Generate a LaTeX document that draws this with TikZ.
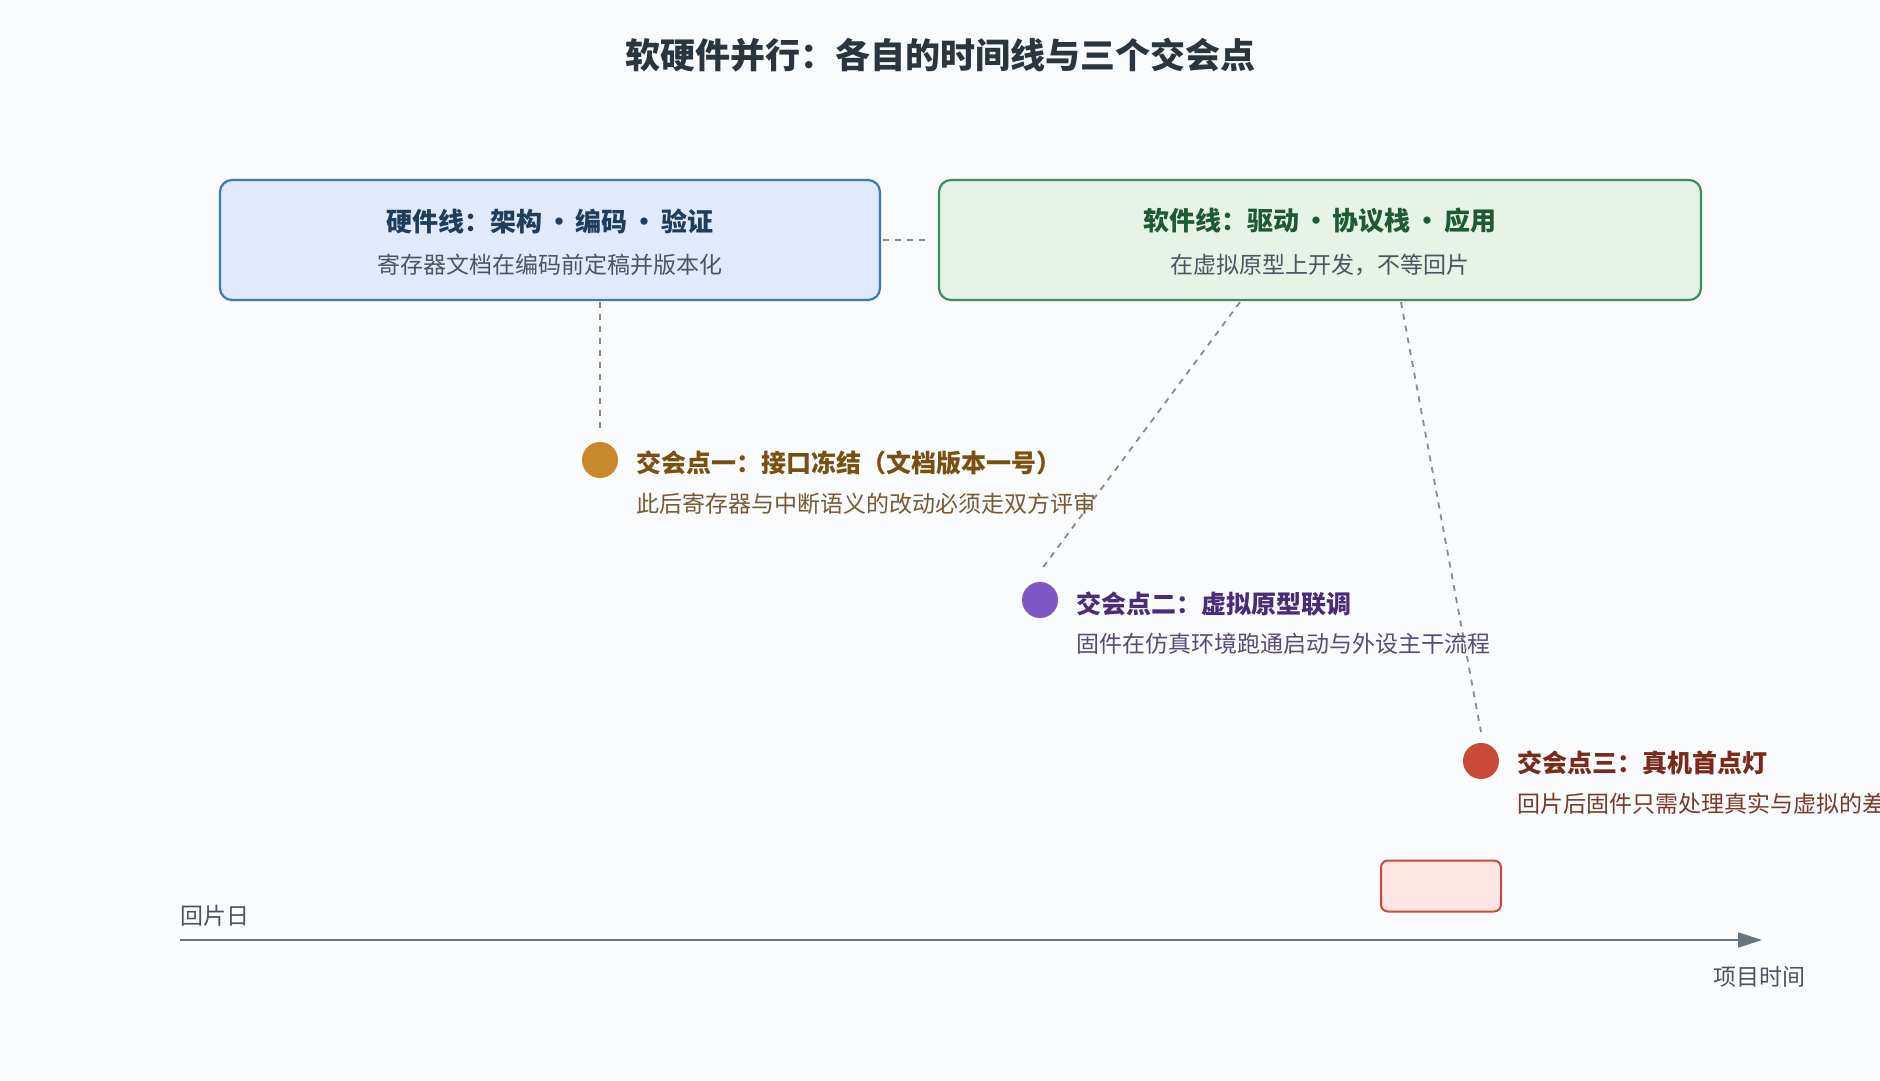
\documentclass[tikz,border=0pt]{standalone}
\usepackage{fontspec}
\setmainfont{Noto Sans CJK SC}
\usetikzlibrary{arrows.meta}
\definecolor{bg}{HTML}{F9FBFD}
\definecolor{hwf}{HTML}{DFEAFC}\definecolor{hwb}{HTML}{3C78B8}\definecolor{hwt}{HTML}{1F3D5C}
\definecolor{swf}{HTML}{E6F4E8}\definecolor{swb}{HTML}{3D8F5A}\definecolor{swt}{HTML}{1E5A32}
\definecolor{c1}{HTML}{C8892A}\definecolor{t1}{HTML}{7A5010}\definecolor{s1}{HTML}{7A5A30}
\definecolor{c2}{HTML}{7E57C2}\definecolor{t2}{HTML}{4A2C7A}\definecolor{s2}{HTML}{5A4A7A}
\definecolor{c3}{HTML}{C94A38}\definecolor{t3}{HTML}{7A2A1A}\definecolor{s3}{HTML}{7A3A2A}
\definecolor{pk}{HTML}{FDE5E2}\definecolor{ax}{HTML}{6A7580}\definecolor{gr}{HTML}{4A5560}
\definecolor{dl}{HTML}{8A8A8A}\definecolor{tt}{HTML}{2A3540}
\newcommand{\bul}{\hspace{0.15em}•\hspace{0.15em}}
\begin{document}
\begin{tikzpicture}[x=1pt,y=-1pt,
 box/.style={draw,line width=2.2pt,rounded corners=12pt,minimum width=#1,minimum height=120pt},
 ttl/.style={font=\fontsize{26}{30}\selectfont\bfseries,anchor=center},
 sub/.style={font=\fontsize{23}{27}\selectfont,text=gr},
 dot/.style={circle,inner sep=0pt,minimum size=36pt},
 lab/.style={font=\fontsize{25}{30}\selectfont\bfseries,anchor=west,inner sep=0pt},
 lsub/.style={font=\fontsize{23}{27}\selectfont,anchor=west,inner sep=0pt},
 dsh/.style={draw=dl,line width=1.8pt,dash pattern=on 6pt off 6pt}]
\clip (0,0) rectangle (1880,1080);
\fill[bg] (0,0) rectangle (1880,1080);
\node[font=\fontsize{35}{40}\selectfont\bfseries,text=tt] (title) at (940,55) {软硬件并行：各自的时间线与三个交会点};
\node[box=660pt,fill=hwf,draw=hwb] (hw) at (550,240) {};
\node[ttl,text=hwt] (hwt) at (550,221) {硬件线：架构\bul 编码\bul 验证};
\node[sub] (hws) at (550,265) {寄存器文档在编码前定稿并版本化};
\node[box=762pt,fill=swf,draw=swb] (sw) at (1320,240) {};
\node[ttl,text=swt] (swt) at (1320,221) {软件线：驱动\bul 协议栈\bul 应用};
\node[sub] (sws) at (1320,265) {在虚拟原型上开发，不等回片};
\coordinate (hwr) at (883,240); \coordinate (swl) at (929,240);
\draw[dsh] (hwr) -- (swl);
\node[dot,fill=c1] (d1) at (600,460) {};
\node[dot,fill=c2] (d2) at (1040,600) {};
\node[dot,fill=c3] (d3) at (1481,761) {};
\coordinate (a1) at (600,302); \coordinate (b1) at (600,432);
\coordinate (a2) at (1240,302); \coordinate (b2) at (1041,570);
\coordinate (a3) at (1401,302); \coordinate (b3) at (1481,732);
\draw[dsh] (a1) -- (b1); \draw[dsh] (a2) -- (b2); \draw[dsh] (a3) -- (b3);
\node[lab,text=t1] (l1) at (636,463) {交会点一：接口冻结（文档版本一号）};
\node[lsub,text=s1] (m1) at (636,504) {此后寄存器与中断语义的改动必须走双方评审};
\node[lab,text=t2] (l2) at (1076,604) {交会点二：虚拟原型联调};
\node[lsub,text=s2] (m2) at (1076,644) {固件在仿真环境跑通启动与外设主干流程};
\node[lab,text=t3] (l3) at (1517,763) {交会点三：真机首点灯};
\node[lsub,text=s3] (m3) at (1517,804) {回片后固件只需处理真实与虚拟的差异};
\node[draw=c3,fill=pk,line width=2pt,rounded corners=7pt,minimum width=120pt,minimum height=51pt] (pr) at (1441,886) {};
\coordinate (x0) at (180,940); \coordinate (x1) at (1762,940);
\draw[ax,line width=2.2pt,-{Triangle[length=24pt,width=15pt]}] (x0) -- (x1);
\node[sub,anchor=west,inner sep=0pt] (hp) at (180,916) {回片日};
\node[sub] (xt) at (1759,977) {项目时间};
\end{tikzpicture}
\end{document}
